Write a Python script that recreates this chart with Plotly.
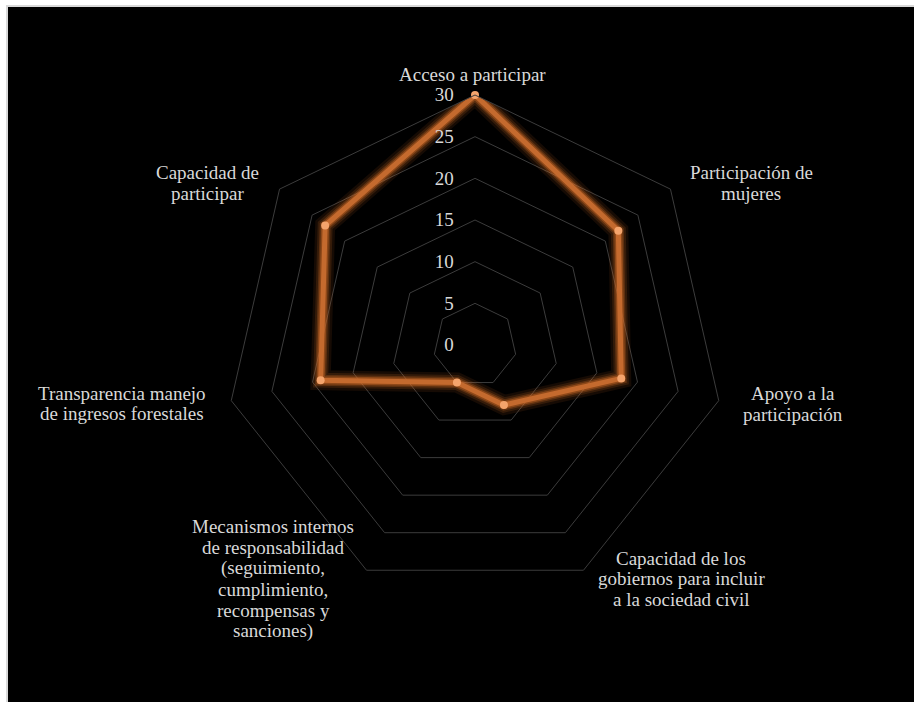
import plotly.graph_objects as go

# Radar categories (line breaks as they appear in the labels)
categories = [
    "Acceso a participar",
    "Participación de<br>mujeres",
    "Apoyo a la<br>participación",
    "Capacidad de los<br>gobiernos para incluir<br>a la sociedad civil",
    "Mecanismos internos<br>de responsabilidad<br>(seguimiento,<br>cumplimiento,<br>recompensas y<br>sanciones)",
    "Transparencia manejo<br>de ingresos forestales",
    "Capacidad de<br>participar",
]
scores = [30, 22, 18, 8, 5, 19, 23]
radial_ticks = [0, 5, 10, 15, 20, 25, 30]

W, H = 914, 702
CX, CY, R = 475, 345, 250  # polar centre and outer radius in pixels

FONT = "Liberation Serif, 'Times New Roman', serif"
TEXT_COLOR = "#d9d9d9"
GRID_COLOR = "#3c3c3c"

# label block placement: (centre x, first line y, line step) in pixels
label_pos = [
    (472, 75, 21),
    (751, 173, 20.5),
    (793, 393, 21),
    (681, 558, 20.7),
    (273, 526, 21),
    (122, 393, 20.5),
    (207, 173, 20.5),
]

theta = categories + categories[:1]
r_closed = scores + scores[:1]

fig = go.Figure()

# soft orange glow under the line
for width, alpha in [(20, 0.10), (15, 0.16), (11, 0.26), (8, 0.40)]:
    fig.add_trace(go.Scatterpolar(
        r=r_closed, theta=theta, mode="lines",
        line=dict(color=f"rgba(214,110,40,{alpha})", width=width),
        hoverinfo="skip", showlegend=False,
    ))

fig.add_trace(go.Scatterpolar(
    r=r_closed, theta=theta, mode="lines",
    line=dict(color="#c46a2e", width=5),
    showlegend=False,
))
fig.add_trace(go.Scatterpolar(
    r=scores, theta=categories, mode="markers",
    marker=dict(color="#f4a46c", size=8),
    showlegend=False,
))

annotations = []
for cat, (x, y0, step) in zip(categories, label_pos):
    for i, line in enumerate(cat.split("<br>")):
        annotations.append(dict(
            text=line, x=x / W, y=1 - (y0 + i * step) / H,
            xref="paper", yref="paper", xanchor="center", yanchor="middle",
            showarrow=False, font=dict(family=FONT, size=19, color=TEXT_COLOR),
        ))

fig.update_layout(
    width=W, height=H,
    margin=dict(l=0, r=0, t=0, b=0),
    paper_bgcolor="white",
    plot_bgcolor="black",
    shapes=[dict(
        type="rect", xref="paper", yref="paper", layer="below",
        x0=7 / W, x1=1.01, y0=-0.01, y1=1 - 6 / H,
        fillcolor="black", line=dict(color="#d9d9d9", width=2),
    )],
    polar=dict(
        domain=dict(x=[(CX - R) / W, (CX + R) / W],
                    y=[1 - (CY + R) / H, 1 - (CY - R) / H]),
        bgcolor="rgba(0,0,0,0)",
        gridshape="linear",
        angularaxis=dict(
            direction="clockwise", rotation=90,
            showgrid=False, showticklabels=False, ticks="",
            showline=True, linecolor=GRID_COLOR, linewidth=1,
        ),
        radialaxis=dict(
            range=[0, 30], tickvals=radial_ticks, angle=90, tickangle=90,
            side="counterclockwise",
            showline=False, showgrid=True, gridcolor=GRID_COLOR, gridwidth=1,
            ticks="outside", ticklen=14, tickcolor="rgba(0,0,0,0)",
            tickfont=dict(family=FONT, size=19, color=TEXT_COLOR),
        ),
    ),
    annotations=annotations,
)

fig.write_html("out.html")
